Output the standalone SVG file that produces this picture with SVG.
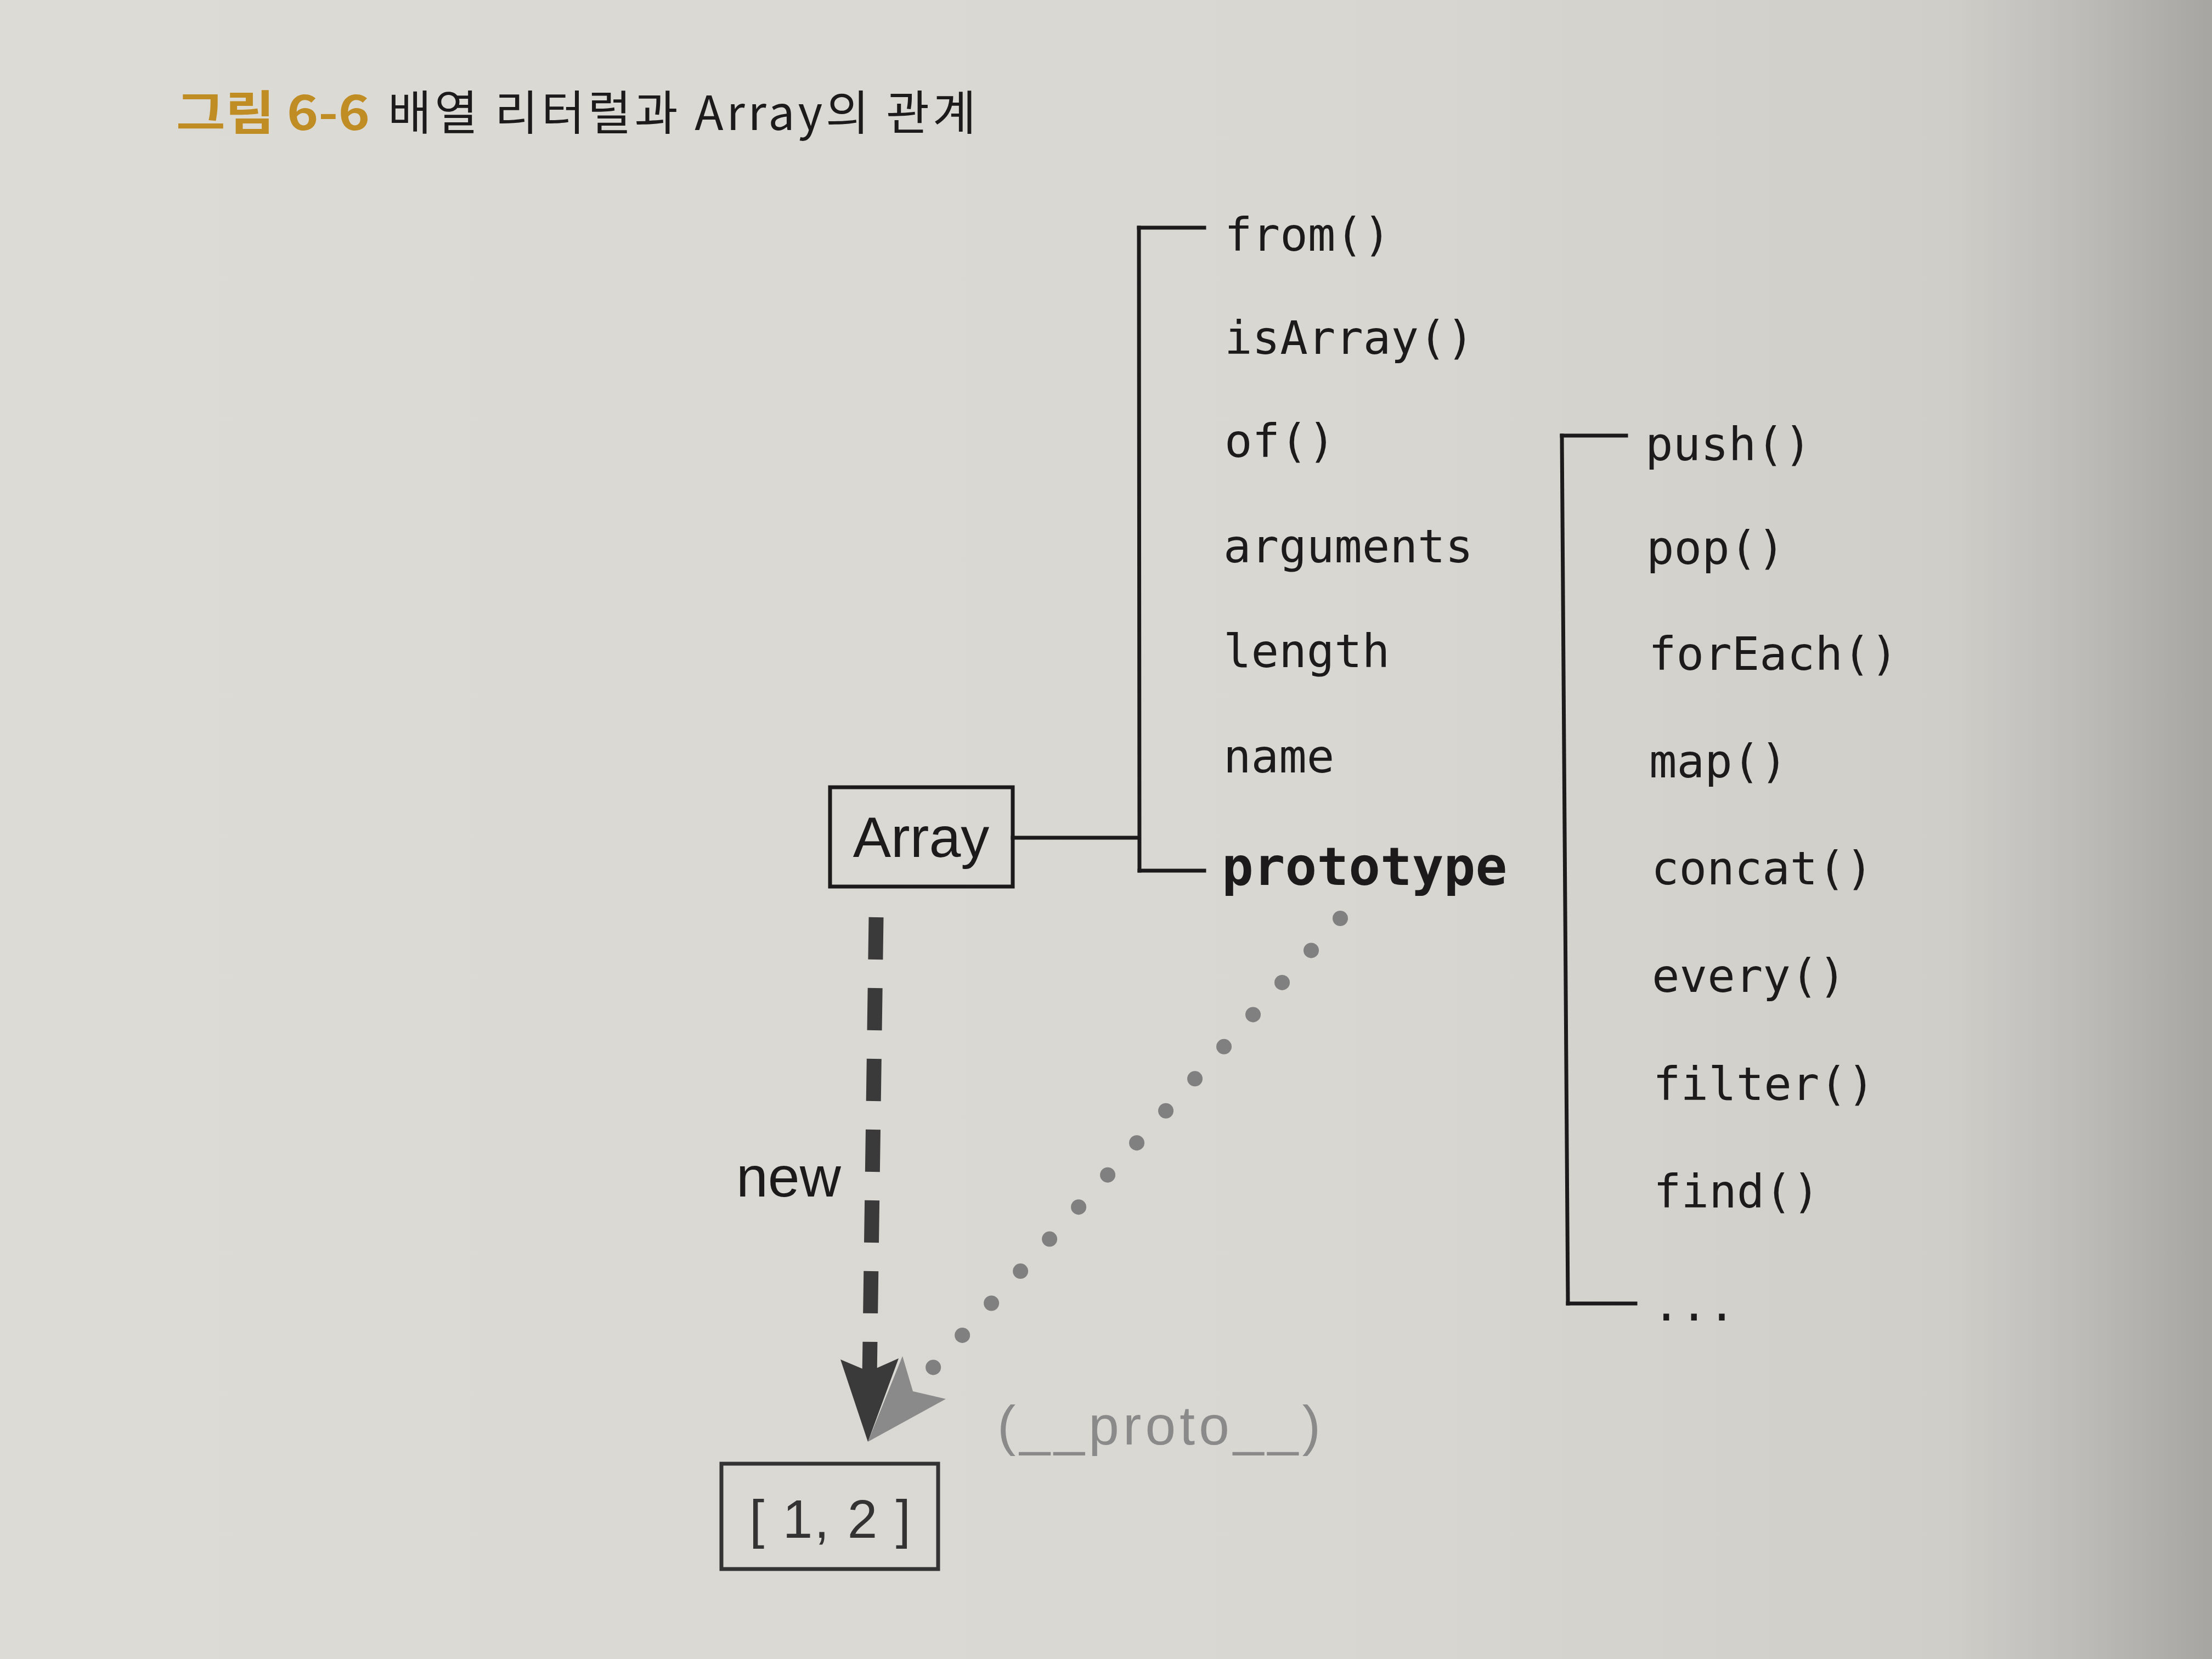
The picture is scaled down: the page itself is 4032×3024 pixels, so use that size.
<svg xmlns="http://www.w3.org/2000/svg" width="4032" height="3024" viewBox="0 0 4032 3024">
  <defs>
    <linearGradient id="paper" x1="0" y1="0" x2="1" y2="0">
      <stop offset="0" stop-color="#dcdbd6"/>
      <stop offset="0.6" stop-color="#d8d7d2"/>
      <stop offset="0.88" stop-color="#cfcec9"/>
      <stop offset="0.94" stop-color="#bdbcb8"/>
      <stop offset="1" stop-color="#a6a5a1"/>
    </linearGradient>
    <style>
      .mono { font-family: "DejaVu Sans Mono", "Liberation Mono", monospace; font-size: 84px; fill: #1c1a1a; }
      .bold { font-weight: bold; font-size: 96px; }
      .sans { font-family: "Liberation Sans", Arial, sans-serif; }
      .line { stroke: #1c1a1a; stroke-width: 7; fill: none; stroke-linecap: square; }
      .box { fill: none; stroke: #1c1a1a; stroke-width: 7; }
    </style>
  </defs>

  <rect x="0" y="0" width="4032" height="3024" fill="url(#paper)"/>

  <g id="title" font-family="'Noto Sans CJK KR', 'Noto Sans', sans-serif" font-size="86">
    <text x="321" y="237" fill="#c08d24" font-weight="bold" textLength="353" lengthAdjust="spacingAndGlyphs">그림 6-6</text>
    <text x="707" y="237" fill="#1c1a1a" textLength="1072" lengthAdjust="spacing">배열 리터럴과 Array의 관계</text>
  </g>

  <g id="connectors">
    <!-- Array to static members bracket -->
    <line class="line" x1="1846" y1="1527" x2="2076" y2="1527"/>
    <line class="line" x1="2076" y1="415" x2="2077" y2="1587"/>
    <line class="line" x1="2076" y1="415" x2="2195" y2="415"/>
    <line class="line" x1="2077" y1="1587" x2="2195" y2="1587"/>
    <!-- prototype members bracket -->
    <line class="line" x1="2847" y1="794" x2="2858" y2="2376"/>
    <line class="line" x1="2847" y1="794" x2="2964" y2="794"/>
    <line class="line" x1="2858" y1="2376" x2="2981" y2="2376"/>
    <!-- new : dashed arrow -->
    <line x1="1597" y1="1672" x2="1585" y2="2510" stroke="#3a3a3a" stroke-width="27" stroke-dasharray="77 52"/>
    <!-- __proto__ : dotted arrow -->
    <line x1="2443" y1="1674" x2="1697" y2="2497" stroke="#808080" stroke-width="28" stroke-linecap="round" stroke-dasharray="0 78.9"/>
    <polygon points="1582,2628 1724,2550 1664,2536 1645,2472" fill="#8a8a8a"/>
    <polygon points="1532,2478 1584,2500 1638,2476 1582,2628" fill="#3a3a3a"/>
  </g>

  <g id="node-array">
    <rect class="box" x="1513" y="1435" width="333" height="181"/>
    <text class="sans" x="1679" y="1562" font-size="104" text-anchor="middle" fill="#1c1a1a">Array</text>
  </g>

  <g id="node-static-members">
    <text class="mono" x="2232" y="457">from()</text>
    <text class="mono" x="2232" y="645">isArray()</text>
    <text class="mono" x="2232" y="833">of()</text>
    <text class="mono" x="2230" y="1025">arguments</text>
    <text class="mono" x="2230" y="1216">length</text>
    <text class="mono" x="2230" y="1408">name</text>
    <text class="mono bold" x="2227" y="1613">prototype</text>
  </g>

  <g id="node-prototype-members">
    <text class="mono" x="2999" y="839">push()</text>
    <text class="mono" x="3001" y="1028">pop()</text>
    <text class="mono" x="3005" y="1221">forEach()</text>
    <text class="mono" x="3006" y="1417">map()</text>
    <text class="mono" x="3010" y="1612">concat()</text>
    <text class="mono" x="3011" y="1808">every()</text>
    <text class="mono" x="3013" y="2005">filter()</text>
    <text class="mono" x="3014" y="2201">find()</text>
    <text class="mono" x="3012" y="2407">...</text>
  </g>

  <g id="label-new">
    <text class="sans" x="1342" y="2181" font-size="104" fill="#1c1a1a">new</text>
  </g>

  <g id="label-proto">
    <text class="sans" x="1818" y="2633" font-size="100" fill="#8a8a8a" textLength="589" lengthAdjust="spacing">(__proto__)</text>
  </g>

  <g id="node-literal">
    <rect x="1315" y="2668" width="395" height="192" fill="none" stroke="#333333" stroke-width="7"/>
    <text class="sans" x="1366" y="2803" font-size="98" fill="#333333" textLength="294" lengthAdjust="spacing">[ 1, 2 ]</text>
  </g>
</svg>
